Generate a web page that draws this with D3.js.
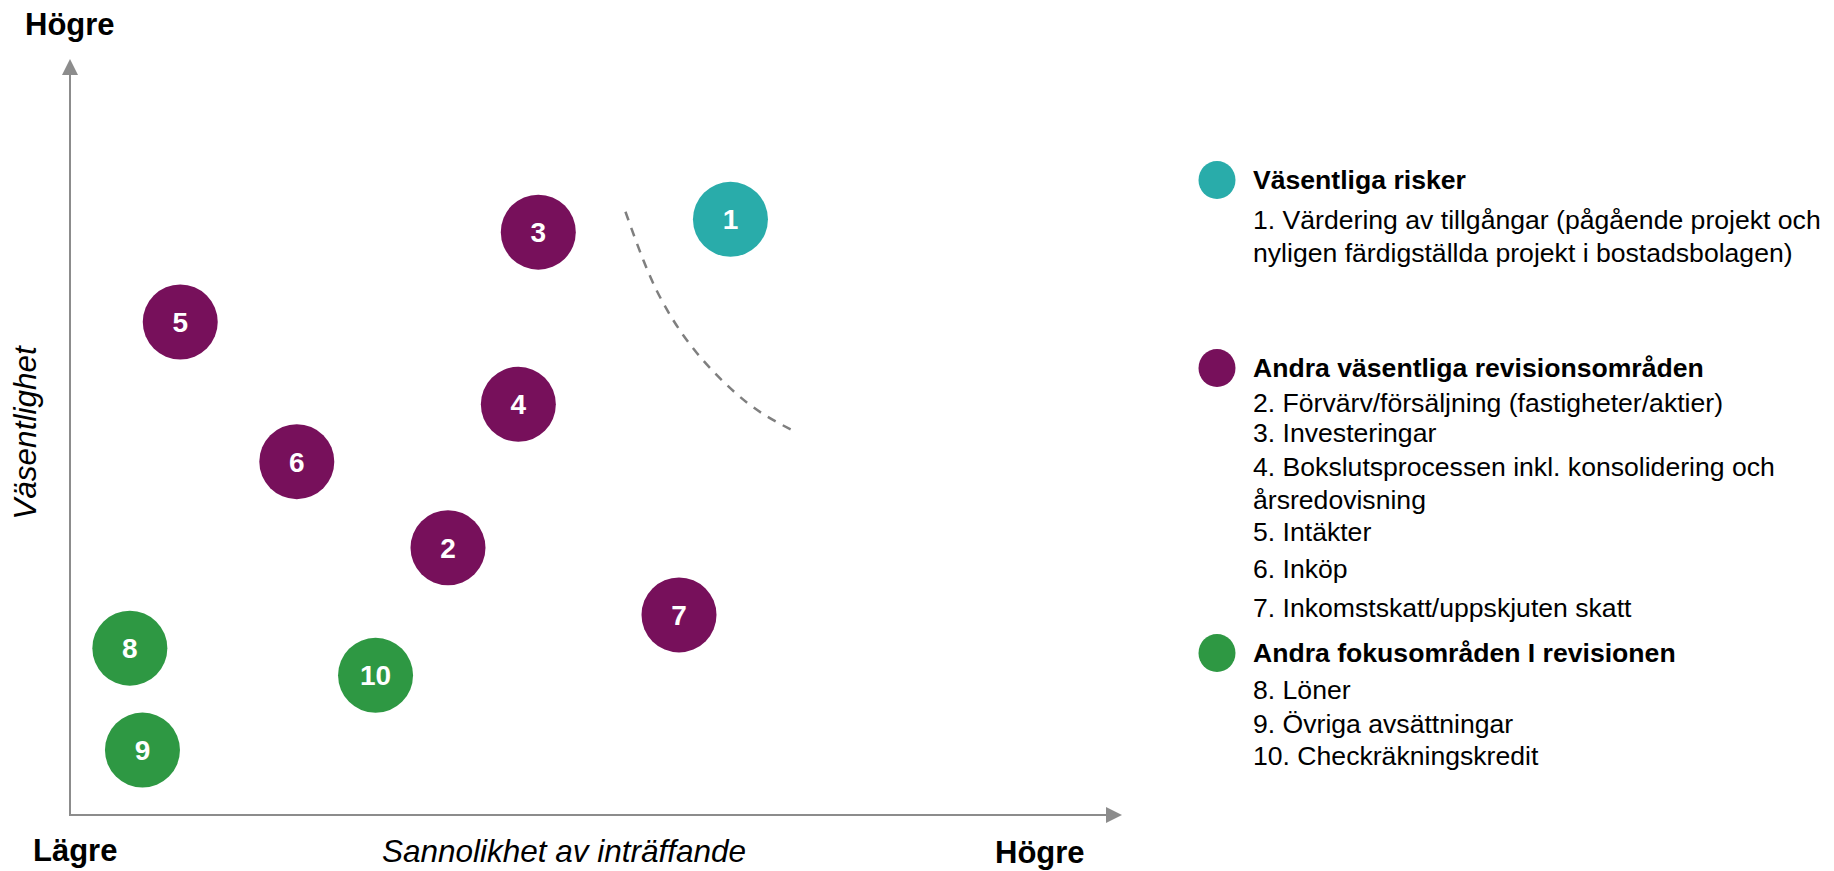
<!DOCTYPE html>
<html>
<head>
<meta charset="utf-8">
<script src="https://cdnjs.cloudflare.com/ajax/libs/d3/7.8.5/d3.min.js"></script>
<style>
  body { margin: 0; background: #fff; }
  text { font-family: Arial, "Liberation Sans", sans-serif; }
</style>
</head>
<body>
<div id="risk-map"></div>
<script>
// risk areas, numbered 1-10
var areaIds = [1, 2, 3, 4, 5, 6, 7, 8, 9, 10];
var areaGroup = ['risk', 'revision', 'revision', 'revision', 'revision', 'revision', 'revision', 'focus', 'focus', 'focus'];
// x = sannolikhet, y = väsentlighet (0-100)
var likelihood = [62.9, 36.0, 44.6, 42.7, 10.5, 21.6, 58.0, 5.7, 6.9, 29.1];
var significance = [78.9, 35.4, 77.2, 54.4, 65.3, 46.8, 26.5, 22.1, 8.6, 18.5];
var areaLabels = [
  '1. Värdering av tillgångar (pågående projekt och nyligen färdigställda projekt i bostadsbolagen)',
  '2. Förvärv/försäljning (fastigheter/aktier)',
  '3. Investeringar',
  '4. Bokslutsprocessen inkl. konsolidering och årsredovisning',
  '5. Intäkter',
  '6. Inköp',
  '7. Inkomstskatt/uppskjuten skatt',
  '8. Löner',
  '9. Övriga avsättningar',
  '10. Checkräkningskredit'
];

var groupKeys = ['risk', 'revision', 'focus'];
var groupNames = ['Väsentliga risker', 'Andra väsentliga revisionsområden', 'Andra fokusområden I revisionen'];

// dashed boundary line
var boundaryX = [52.9, 54.6, 56.5, 59.7, 64.5, 68.9];
var boundaryY = [79.9, 73.5, 67.8, 61.2, 54.6, 50.9];

var axisLow = 'Lägre', axisHigh = 'Högre';
var xTitle = 'Sannolikhet av inträffande', yTitle = 'Väsentlighet';

(function() {
  var width = 1834, height = 871;

  var svg = d3.select("#risk-map")
    .append("svg")
    .attr("width", width)
    .attr("height", height);

  var xPositionScale = d3.scaleLinear().domain([0, 100]).range([70, 1120]);
  var yPositionScale = d3.scaleLinear().domain([0, 100]).range([815, 60]);
  var colorScale = d3.scaleOrdinal().domain(groupKeys).range(['#29ACAA', '#77105B', '#2E9843']);

  var axisColor = "#8C8C8C";

  // arrow head
  svg.append("defs").append("marker")
    .attr("id", "arrow")
    .attr("markerUnits", "userSpaceOnUse")
    .attr("viewBox", "0 -8 16 16")
    .attr("refX", 0).attr("refY", 0)
    .attr("markerWidth", 16).attr("markerHeight", 16)
    .attr("orient", "auto")
    .append("path")
    .attr("d", "M0,-8L16,0L0,8Z")
    .attr("fill", axisColor);

  var x0 = xPositionScale.range()[0], x1 = xPositionScale.range()[1];
  var y0 = yPositionScale.range()[0], y1 = yPositionScale.range()[1];

  // x axis
  svg.append("line")
    .attr("x1", x0).attr("y1", y0)
    .attr("x2", x1 - 14).attr("y2", y0)
    .attr("stroke", axisColor)
    .attr("stroke-width", 2)
    .attr("marker-end", "url(#arrow)");

  // y axis
  svg.append("line")
    .attr("x1", x0).attr("y1", y0 + 1)
    .attr("x2", x0).attr("y2", y1 + 15)
    .attr("stroke", axisColor)
    .attr("stroke-width", 2)
    .attr("marker-end", "url(#arrow)");

  // axis end labels
  svg.append("text")
    .attr("x", 25).attr("y", 35)
    .style("font-size", "31px").style("font-weight", "bold")
    .text(axisHigh);

  svg.append("text")
    .attr("x", 33).attr("y", 861)
    .style("font-size", "31px").style("font-weight", "bold")
    .text(axisLow);

  svg.append("text")
    .attr("x", 995).attr("y", 863)
    .style("font-size", "31px").style("font-weight", "bold")
    .text(axisHigh);

  svg.append("text")
    .attr("x", 564).attr("y", 862)
    .style("text-anchor", "middle")
    .style("font-size", "31.5px").style("font-style", "italic")
    .text(xTitle);

  svg.append("text")
    .attr("transform", "translate(36,433) rotate(-90)")
    .style("text-anchor", "middle")
    .style("font-size", "31.5px").style("font-style", "italic")
    .text(yTitle);

  // dashed boundary
  var boundary = boundaryX.map(function(d, i) { return [d, boundaryY[i]]; });
  var line = d3.line()
    .x(function(d) { return xPositionScale(d[0]) })
    .y(function(d) { return yPositionScale(d[1]) })
    .curve(d3.curveNatural);

  svg.append("path")
    .datum(boundary)
    .attr("d", line)
    .attr("fill", "none")
    .attr("stroke", "#7F7F7F")
    .attr("stroke-width", 2.5)
    .attr("stroke-dasharray", "9,8");

  // circles
  var areas = areaIds.map(function(id, i) {
    return { id: id, group: areaGroup[i], x: likelihood[i], y: significance[i] };
  });

  var bubbles = svg.selectAll(".area")
    .data(areas)
    .enter().append("g")
    .attr("class", "area")
    .attr("transform", function(d) {
      return "translate(" + xPositionScale(d.x) + "," + yPositionScale(d.y) + ")";
    });

  bubbles.append("circle")
    .attr("r", 37.5)
    .attr("fill", function(d) { return colorScale(d.group) });

  bubbles.append("text")
    .attr("text-anchor", "middle")
    .attr("dy", "0.36em")
    .style("font-size", "28px")
    .style("font-weight", "bold")
    .attr("fill", "white")
    .text(function(d) { return d.id });

  // legend
  var legendX = 1253, wrapWidth = 575, lineHeight = 33;
  var headerY = [189, 377, 662];
  var itemY = [229, 412, 442, 476, 541, 578, 617, 699, 733, 765];

  var legend = svg.append("g").attr("class", "legend");

  groupKeys.forEach(function(key, i) {
    legend.append("ellipse")
      .attr("cx", 1217)
      .attr("cy", headerY[i] - 9)
      .attr("rx", 18.5).attr("ry", 19)
      .attr("fill", colorScale(key));

    legend.append("text")
      .attr("x", legendX).attr("y", headerY[i])
      .style("font-size", "26.6px")
      .style("font-weight", "bold")
      .text(groupNames[i]);
  });

  areaLabels.forEach(function(label, i) {
    var t = legend.append("text")
      .attr("x", legendX).attr("y", itemY[i])
      .style("font-size", "26.6px");

    // simple word wrap
    var words = label.split(" "), current = [];
    var tspan = t.append("tspan").attr("x", legendX);
    words.forEach(function(w) {
      current.push(w);
      tspan.text(current.join(" "));
      if (tspan.node().getComputedTextLength() > wrapWidth && current.length > 1) {
        current.pop();
        tspan.text(current.join(" "));
        current = [w];
        tspan = t.append("tspan").attr("x", legendX).attr("dy", lineHeight).text(w);
      }
    });
  });
})();
</script>
</body>
</html>
